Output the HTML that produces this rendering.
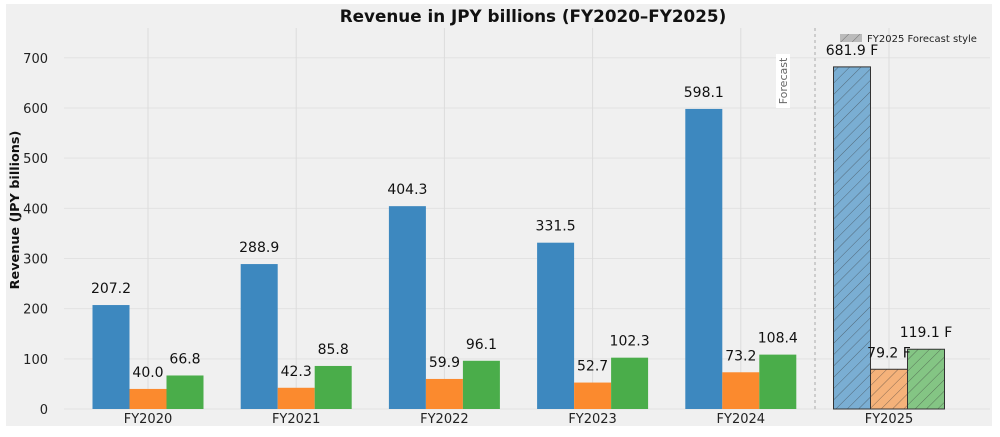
<!DOCTYPE html>
<html><head><meta charset="utf-8"><style>
body{margin:0;background:#fff;}
svg text{font-family:"DejaVu Sans","Liberation Sans",sans-serif;}
</style></head><body>
<svg width="1000" height="432" viewBox="0 0 1000 432">
<defs>
<pattern id="hatch" patternUnits="userSpaceOnUse" width="8" height="8" patternTransform="rotate(45)">
<line x1="0" y1="0" x2="0" y2="8" stroke="#333" stroke-width="0.8" opacity="0.7"/>
</pattern>
</defs>
<rect x="6" y="4" width="986" height="422" fill="#f0f0f0"/>
<g id="grid"></g>
<g id="bars"></g>
<g id="labels"></g>
<text x="533" y="22" text-anchor="middle" font-size="16.8" font-weight="bold" fill="#111">Revenue in JPY billions (FY2020–FY2025)</text>
<text transform="translate(19,210) rotate(-90)" text-anchor="middle" font-size="12.8" font-weight="bold" fill="#111">Revenue (JPY billions)</text>
<line x1="815" y1="28" x2="815" y2="409" stroke="#aaa" stroke-width="1" stroke-dasharray="3,3"/>
<rect x="776" y="54" width="14" height="54" fill="#fff"/>
<text transform="translate(787,81) rotate(-90)" text-anchor="middle" font-size="11" fill="#666">Forecast</text>
<g>
<rect x="840" y="34" width="22" height="8" fill="#bbb"/>
<rect x="840" y="34" width="22" height="8" fill="url(#hatch)"/>
<text x="867" y="42" font-size="10" fill="#222">FY2025 Forecast style</text>
</g>
</svg>
<script>
const categories=["FY2020","FY2021","FY2022","FY2023","FY2024","FY2025"];
const seriesA=[207.2,288.9,404.3,331.5,598.1,681.9];
const seriesB=[40.0,42.3,59.9,52.7,73.2,79.2];
const seriesC=[66.8,85.8,96.1,102.3,108.4,119.1];
const forecast=[false,false,false,false,false,true];
const yTicks=[0,100,200,300,400,500,600,700];
const NS="http://www.w3.org/2000/svg";
const y0=409, pxPerUnit=0.5017;
function yScale(v){return y0-v*pxPerUnit;}
function xScale(i){return 148+i*148.2;}
function mk(tag,attrs,parent){const e=document.createElementNS(NS,tag);for(const k in attrs)e.setAttribute(k,attrs[k]);parent.appendChild(e);return e;}
const grid=document.getElementById('grid'),bars=document.getElementById('bars'),labels=document.getElementById('labels'),svg=document.querySelector('svg');
yTicks.forEach(t=>{
  const l=mk('line',{x1:64,x2:990,y1:yScale(t),y2:yScale(t),stroke:'#e2e2e2','stroke-width':1},grid);
  
  
  const tx=mk('text',{x:48,y:yScale(t)+5,'text-anchor':'end','font-size':13,fill:'#222'},svg);
  tx.textContent=t;
  
  
});
categories.forEach((c,i)=>{
  const l=mk('line',{x1:xScale(i),x2:xScale(i),y1:28,y2:409,stroke:'#dcdcdc','stroke-width':1},grid);
  
  
  const tx=mk('text',{x:xScale(i),y:423,'text-anchor':'middle','font-size':13,fill:'#222'},svg);
  tx.textContent=c;
  
  
});
const series=[[seriesA,'#3d88bf','#7aaed3'],[seriesB,'#fb8a2e','#f5b27a'],[seriesC,'#4aad4a','#84c584']];
const bw=37;
series.forEach((s,si)=>{
  s[0].forEach((v,i)=>{
    const cx=xScale(i)+(si-1)*bw;
    const fc=forecast[i];
    const r=mk('rect',{x:cx-bw/2,y:yScale(v),width:bw,height:v*pxPerUnit,fill:fc?s[2]:s[1],stroke:fc?'#333':'none','stroke-width':fc?1:0},bars);
    
    
    if(fc){const h=mk('rect',{x:cx-bw/2,y:yScale(v),width:bw,height:v*pxPerUnit,fill:'url(#hatch)'},bars);
      
      }
    const tx=mk('text',{x:cx,y:yScale(v)-12,'text-anchor':'middle','font-size':14,fill:'#111'},labels);
    tx.textContent=v.toFixed(1)+(fc?' F':'');
    
    
  });
});
</script>
</body></html>
